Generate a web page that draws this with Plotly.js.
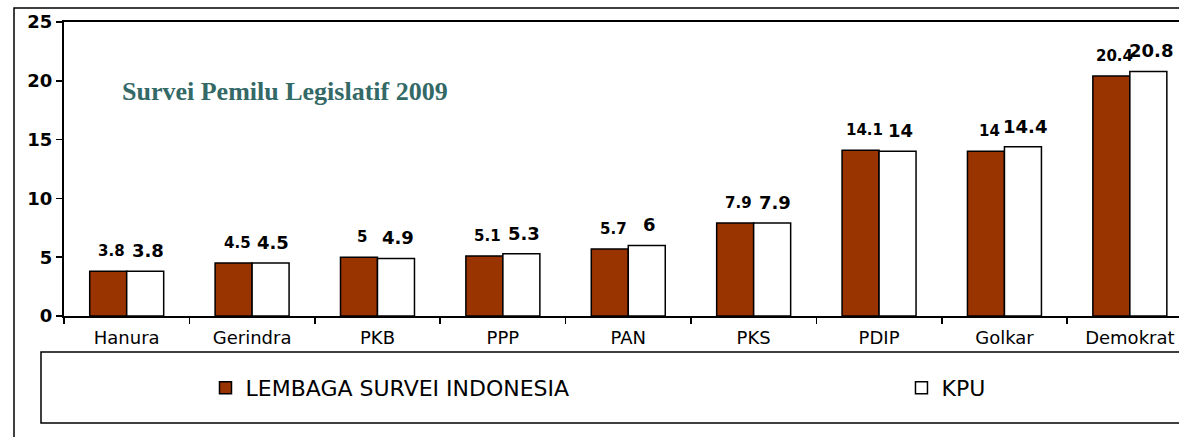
<!DOCTYPE html>
<html>
<head>
<meta charset="utf-8">
<script src="https://cdn.plot.ly/plotly-3.0.1.min.js"></script>
<style>
  html, body { margin: 0; padding: 0; background: #ffffff; }
  #chart { width: 1179px; height: 437px; }
</style>
</head>
<body>
<div id="chart"></div>
<script>
const categories = ['Hanura', 'Gerindra', 'PKB', 'PPP', 'PAN', 'PKS', 'PDIP', 'Golkar', 'Demokrat'];
const lsiValues = [3.8, 4.5, 5, 5.1, 5.7, 7.9, 14.1, 14, 20.4];
const kpuValues = [3.8, 4.5, 4.9, 5.3, 6, 7.9, 14, 14.4, 20.8];
const seriesNames = ['LEMBAGA SURVEI INDONESIA', 'KPU'];
const chartTitle = 'Survei Pemilu Legislatif 2009';
const yTicks = [0, 5, 10, 15, 20, 25];

const sansFont = 'DejaVu Sans, Verdana, sans-serif';

const traces = [
  {
    type: 'bar', name: seriesNames[0], x: categories, y: lsiValues, legend: 'legend',
    marker: { color: '#993300', line: { color: '#000000', width: 1.5 } },
    hoverinfo: 'none'
  },
  {
    type: 'bar', name: seriesNames[1], x: categories, y: kpuValues, legend: 'legend2',
    marker: { color: '#ffffff', line: { color: '#000000', width: 1.5 } },
    hoverinfo: 'none'
  }
];

const annotations = [];
categories.forEach((c, i) => {
  annotations.push({
    x: c, y: lsiValues[i], xref: 'x', yref: 'y', text: '<b>' + lsiValues[i] + '</b>',
    showarrow: false, xanchor: 'center', yanchor: 'bottom', xshift: -15, yshift: 9,
    font: { family: sansFont, size: 15, color: '#000000' }
  });
  annotations.push({
    x: c, y: kpuValues[i], xref: 'x', yref: 'y', text: '<b>' + kpuValues[i] + '</b>',
    showarrow: false, xanchor: 'center', yanchor: 'bottom', xshift: 21, yshift: 8,
    font: { family: sansFont, size: 18, color: '#000000' }
  });
});
annotations.push({
  text: '<b>' + chartTitle + '</b>', xref: 'paper', yref: 'paper', x: 0.0502, y: 0.765,
  xanchor: 'left', yanchor: 'middle', showarrow: false,
  font: { family: 'Liberation Serif, Times New Roman, serif', size: 26, color: '#336966' }
});

const legendBase = {
  orientation: 'h', y: -0.245, xanchor: 'left', yanchor: 'middle',
  itemwidth: 30, bgcolor: 'rgba(0,0,0,0)', borderwidth: 0,
  font: { family: sansFont, size: 22, color: '#000000' }
};

const layout = {
  width: 1179, height: 437,
  margin: { l: 64, r: 0, t: 22, b: 121 },
  paper_bgcolor: '#ffffff', plot_bgcolor: '#ffffff',
  showlegend: true,
  barmode: 'group', bargap: 0.41, bargroupgap: 0,
  xaxis: {
    type: 'category', range: [-0.5, 8.392],
    showline: true, linecolor: '#000000', linewidth: 2, mirror: true,
    ticks: 'outside', tickson: 'boundaries', ticklen: 6, tickwidth: 1.5, tickcolor: '#000000',
    showgrid: false, zeroline: false, ticklabelstandoff: 4,
    tickfont: { family: sansFont, size: 18, color: '#000000' }
  },
  yaxis: {
    range: [0, 25], tickvals: yTicks, ticktext: yTicks.map(v => '<b>' + v + '</b>'),
    showline: true, linecolor: '#000000', linewidth: 2,
    ticks: 'outside', ticklen: 6, tickwidth: 1.5, tickcolor: '#000000',
    showgrid: false, zeroline: false, ticklabelstandoff: 0,
    tickfont: { family: sansFont, size: 18, color: '#000000' }
  },
  legend: Object.assign({}, legendBase, { x: 0.1269 }),
  legend2: Object.assign({}, legendBase, { x: 0.7511 }),
  shapes: [
    { type: 'rect', xref: 'paper', yref: 'paper', x0: -0.04484, x1: 1.02, y0: -0.45, y1: 1.0476,
      line: { color: '#000000', width: 1.5 }, fillcolor: 'rgba(0,0,0,0)', layer: 'below' },
    { type: 'rect', xref: 'paper', yref: 'paper', x0: -0.02063, x1: 1.02, y0: -0.36395, y1: -0.12245,
      line: { color: '#000000', width: 1.5 }, fillcolor: 'rgba(0,0,0,0)', layer: 'below' }
  ],
  annotations: annotations
};

Plotly.newPlot('chart', traces, layout, { staticPlot: true, displayModeBar: false });
</script>
</body>
</html>
